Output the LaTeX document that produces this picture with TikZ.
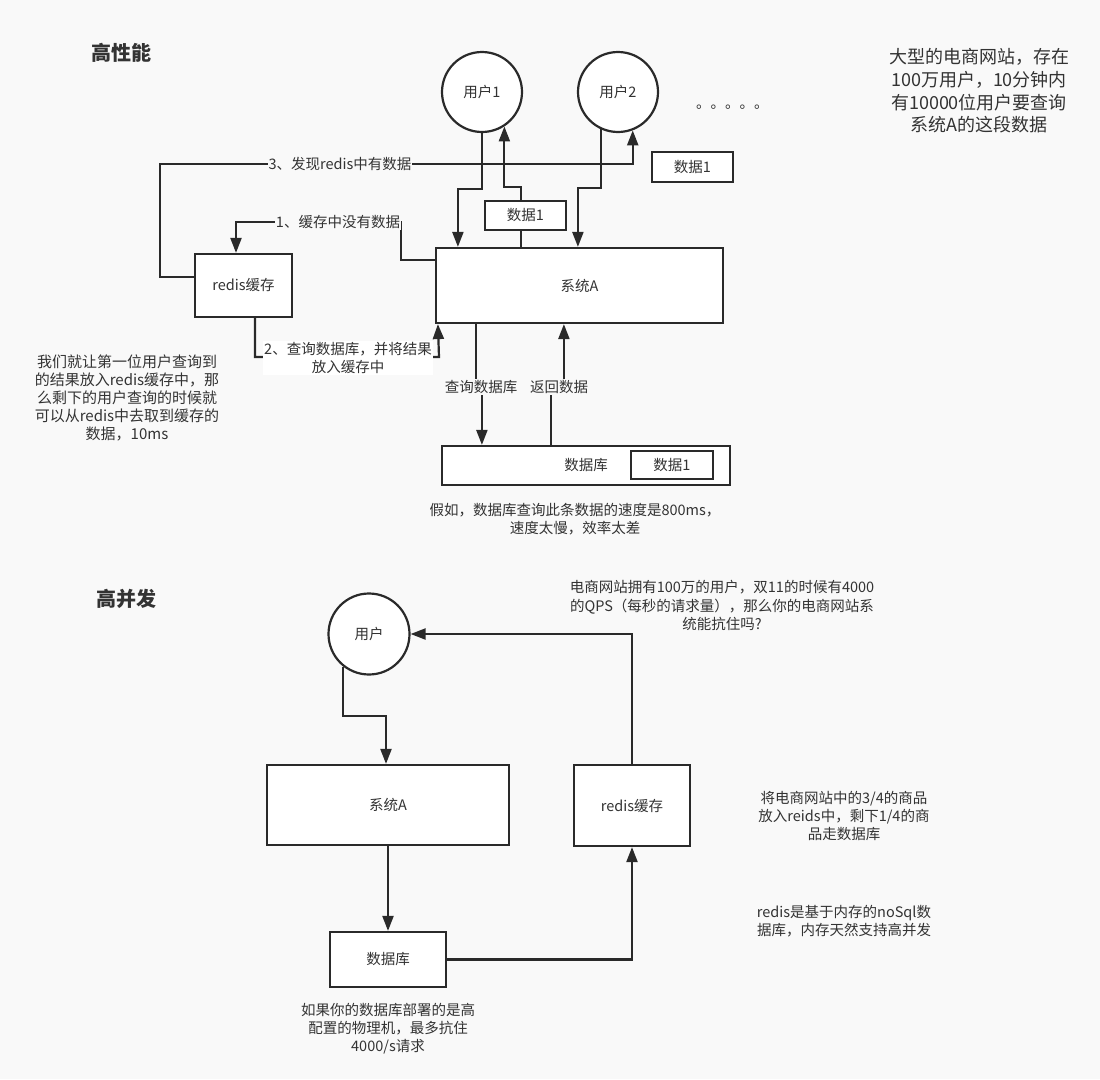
\documentclass[tikz,border=0pt]{standalone}
\usepackage{fontspec}
\setmainfont{Noto Sans CJK SC}
\usetikzlibrary{arrows.meta}
\definecolor{bgc}{HTML}{F9F9F9}
\definecolor{ink}{HTML}{2A2A2A}
\definecolor{txt}{HTML}{333333}
\pgfdeclarelayer{bg}
\pgfdeclarelayer{edges}
\pgfsetlayers{bg,edges,main}
\begin{document}
\begin{tikzpicture}[x=1pt,y=1pt,
  every node/.style={text=txt, font=\fontsize{14.5}{18}\selectfont},
  box/.style={draw=ink, line width=2.2pt, fill=white, inner sep=0pt},
  usr/.style={circle, draw=ink, line width=2.2pt, fill=white, minimum size=80pt, inner sep=0pt},
  conn/.style={draw=ink, line width=2.2pt},
  arr/.style={conn, -{Triangle[length=15pt,width=11pt]}},
  lbl/.style={fill=bgc, inner sep=1pt},
  note/.style={align=center},
  ttl/.style={font=\fontsize{20}{24}\selectfont\bfseries}]
\useasboundingbox (0,0) rectangle (1100,-1079);
\begin{pgfonlayer}{bg}
\fill[bgc] (0,0) rectangle (1100,-1079);
\end{pgfonlayer}

% ---------- 高性能 ----------
\node[ttl] (t1) at (121,-53) {高性能};
\node[usr] (u1) at (482,-92) {用户1};
\node[usr] (u2) at (618,-92) {用户2};
\node[anchor=base west, inner sep=0pt] (dots) at (696,-108) {。。。。。};
\node[box, minimum width=81pt, minimum height=30pt] (d1r) at (692.5,-167) {数据1};
\node[box, minimum width=81pt, minimum height=29pt] (d1m) at (525.5,-215.5) {数据1};
\node[box, minimum width=287pt, minimum height=75pt] (sysA) at (579.5,-285.5) {系统A};
\node[box, minimum width=97pt, minimum height=63pt] (redis) at (243.5,-285.5) {redis缓存};
\node[box, minimum width=288pt, minimum height=39pt] (db) at (586,-465.5) {数据库};
\node[box, minimum width=82pt, minimum height=28pt] (db1) at (672,-465) {数据1};

\node[note, font=\fontsize{18}{22.7}\selectfont] (n1) at (979,-91) {大型的电商网站，存在\\100万用户，10分钟内\\有10000位用户要查询\\系统A的这段数据};
\node[note, font=\fontsize{15}{18}\selectfont] (n2) at (127,-398) {我们就让第一位用户查询到\\的结果放入redis缓存中，那\\么剩下的用户查询的时候就\\可以从redis中去取到缓存的\\数据，10ms};
\node[note] (n3) at (575,-519) {假如，数据库查询此条数据的速度是800ms，\\速度太慢，效率太差};

\node[lbl] (l3) at (340,-164) {3、发现redis中有数据};
\node[lbl] (l1) at (338,-222) {1、缓存中没有数据};
\node[lbl, fill=white, align=center] (l2) at (348,-358) {2、查询数据库，并将结果\\放入缓存中};
\node[lbl] (lq) at (481,-387) {查询数据库};
\node[lbl] (lr) at (559,-387) {返回数据};

\coordinate (h188) at (0,-188);
\coordinate (h164) at (0,-164);
\coordinate (k1) at (401,-222);
\coordinate (k2) at (439,-357);
\coordinate (h716) at (0,-716);

% ---------- 高并发 ----------
\node[ttl] (t2) at (126.5,-599) {高并发};
\node[usr, minimum size=81pt] (usr) at (369,-634) {用户};
\node[box, minimum width=242pt, minimum height=80pt] (sysB) at (388,-805) {系统A};
\node[box, minimum width=116pt, minimum height=81pt] (redisB) at (632,-805.5) {redis缓存};
\node[box, minimum width=116pt, minimum height=55pt] (dbB) at (388,-959.5) {数据库};

\node[note, font=\fontsize{14.5}{18.5}\selectfont] (n4) at (722,-605.5) {电商网站拥有100万的用户，双11的时候有4000\\的QPS（每秒的请求量），那么你的电商网站系\\统能抗住吗?};
\node[note] (n5) at (388,-1029) {如果你的数据库部署的是高\\配置的物理机，最多抗住\\4000/s请求};
\node[note] (n6) at (844,-815.5) {将电商网站中的3/4的商品\\放入reids中，剩下1/4的商\\品走数据库};
\node[note] (n7) at (844,-921) {redis是基于内存的noSql数\\据库，内存天然支持高并发};

\begin{pgfonlayer}{edges}
\draw[arr] (u1.south) -- ++(0,-56) -| ([xshift=23pt]sysA.north west);
\draw[arr] ([xshift=86pt]sysA.north west) -- ++(0,60) -| (u1.-57);
\draw[arr] (u2.-115) -- (u2.-115 |- h188) -| ([xshift=143pt]sysA.north west);
\draw[arr] ([yshift=8.5pt]redis.west) -- ++(-34,0) |- (u2.-69.5 |- h164) -- (u2.-69.5);
\draw[arr] ([yshift=25.5pt]sysA.west) -| (k1) -| ([xshift=-7.5pt]redis.north);
\draw[arr] ([xshift=11.5pt]redis.south) |- (k2) -- ([xshift=3pt]sysA.south west);
\draw[arr] ([xshift=41pt]sysA.south west) -- ++(0,-64) -| ([xshift=41pt]db.north west);
\draw[arr] ([xshift=110pt]db.north west) -- ++(0,59) -| ([xshift=129pt]sysA.south west);

\draw[arr] (redisB.north) |- (usr.east);
\draw[arr] (usr.-128) -- (usr.-128 |- h716) -| ([xshift=-2pt]sysB.north);
\draw[arr] (sysB.south) -- (dbB.north);
\draw[arr] (dbB.east) -| (redisB.south);
\end{pgfonlayer}
\end{tikzpicture}
\end{document}
